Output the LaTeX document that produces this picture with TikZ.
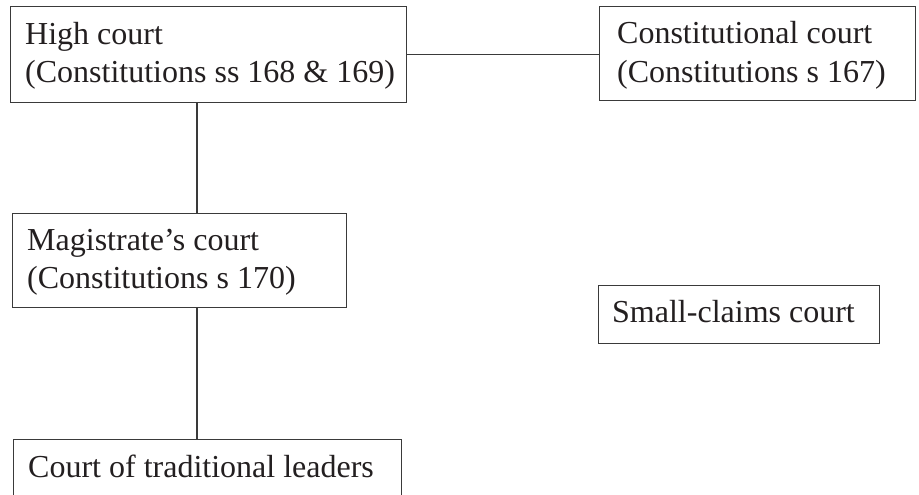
\documentclass[tikz,border=0pt]{standalone}
\usepackage{fontspec}
\setmainfont{Liberation Serif}
\usetikzlibrary{calc}
\definecolor{ln}{HTML}{3A3A3A}
\definecolor{tx}{HTML}{231F20}
\begin{document}
\begin{tikzpicture}[x=1pt,y=-1pt,
  box/.style={draw=ln, line width=1.4pt, anchor=north west, inner sep=0pt, fill=white},
  txt/.style={anchor=base west, text=tx, inner sep=0pt, font=\fontsize{32}{38}\selectfont},
  conn/.style={draw=ln, line width=1.4pt}]
\useasboundingbox (0,0) rectangle (919,495);
\clip (0,0) rectangle (919,495);
\fill[white] (0,0) rectangle (919,495);
% boxes
\node[box, minimum width=396pt, minimum height=96pt] (hc) at (10,6) {};
\node[box, minimum width=316pt, minimum height=94pt] (cc) at (599,6) {};
\node[box, minimum width=334pt, minimum height=94pt] (mc) at (12,213) {};
\node[box, minimum width=281pt, minimum height=58pt] (sc) at (598,285) {};
\node[box, minimum width=388pt, minimum height=100pt] (tl) at (13,439) {};
% connectors
\coordinate (vx) at (197,0);
\draw[conn] (hc.east) -- (hc.east -| cc.west);
\draw[conn] (vx |- hc.south) -- (vx |- mc.north);
\draw[conn] (vx |- mc.south) -- (vx |- tl.north);
% texts
\node[txt] (hcT1) at ($(hc.north west)+(15,39)$) {High court};
\node[txt] (hcT2) at ($(hcT1.base west)+(0,38)$) {(Constitutions ss 168 \& 169)};
\node[txt] (ccT1) at ($(cc.north west)+(18,38)$) {Constitutional court};
\node[txt] (ccT2) at ($(ccT1.base west)+(0,38)$) {(Constitutions s 167)};
\node[txt] (mcT1) at ($(mc.north west)+(15,37)$) {Magistrate’s court};
\node[txt] (mcT2) at ($(mcT1.base west)+(0,38)$) {(Constitutions s 170)};
\node[txt] (scT) at ($(sc.north west)+(14,37)$) {Small-claims court};
\node[txt] (tlT) at ($(tl.north west)+(15,38)$) {Court of traditional leaders};
\end{tikzpicture}
\end{document}
